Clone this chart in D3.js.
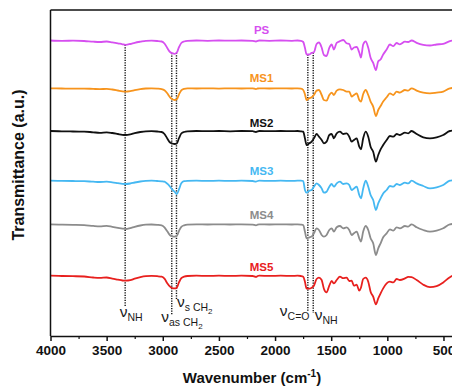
<!DOCTYPE html>
<html>
<head>
<meta charset="utf-8">
<script src="https://cdn.jsdelivr.net/npm/d3@7"></script>
<style>
  html, body { margin: 0; padding: 0; background: #fff; }
  svg { display: block; font-family: Arial, "Liberation Sans", sans-serif; }
</style>
</head>
<body>
<svg id="chart" width="452" height="387"></svg>
<script>
// ---------------- DATA ----------------
// Wavenumber grid (cm-1)
const wavenumbers = [
  4000, 3900, 3800, 3700, 3620, 3560, 3500, 3450, 3400, 3360, 3330, 3290, 3250, 3200, 3150, 3100, 3050, 3010, 2985, 2960,
  2935, 2915, 2895, 2875, 2855, 2835, 2810, 2780, 2700, 2600, 2500, 2400, 2300, 2200, 2170, 2155, 2140, 2050, 1950, 1850, 1800,
  1770, 1749, 1734, 1719, 1695, 1674, 1654, 1630, 1609, 1585, 1565, 1541, 1517, 1496, 1476, 1451, 1422, 1393, 1362, 1339,
  1318, 1297, 1273, 1250, 1235, 1215, 1193, 1170, 1149, 1126, 1102, 1081, 1060, 1037, 1006, 977, 947, 917, 888, 843,
  814, 784, 739, 680, 620, 561, 502, 443, 400
];

// Series names, vertical offsets (a.u.) and band depths below each baseline (a.u.)
const seriesNames = ["PS", "MS1", "MS2", "MS3", "MS4", "MS5"];
const seriesOffsets = [295.5, 247.7, 205, 155.3, 111.7, 60.3];

const psDepth = [
  0, 0.3, 0.2, 0.5, 1.2, 1.5, 1, 1.8, 2.8, 3.8, 4.3, 3.5, 2.3, 1.2, 0.3, 0.2, 0.5, 1, 3, 7.5,
  11.5, 12.7, 13.3, 12, 6.5, 2.5, 1, 0.3, 0, 0.3, 0, 0.2, 0, 0.3, 1, 0.3, 0, 0.3, 0, 0.3, 0,
  0.3, 1.5, 7.3, 14, 14, 12.3, 11.7, 3.5, 2, 7, 14.5, 15.5, 7.3, 4, 9, 2.3, 0.7, -0.5, 2.8, 3.5,
  9, 7, 6.5, 12, 17, 4, 0.8, 7.3, 17.3, 22.3, 29.7, 20.7, 19, 14, 9, 4, 5.7, 2.5, 3.8, 1.2,
  1.5, 0, 2.3, 4.3, 5, 4, 3.3, 0.7, -0.5
];
const ms1Depth = [
  0, 0.2, 0.4, 0.3, 0.6, 0.8, 0.6, 1.2, 2.2, 3, 3.3, 2.8, 1.8, 0.8, 0.2, 0, 0.3, 0.8, 2, 5,
  9, 11, 11.7, 11, 6, 2, 0.5, 0, 0.2, 0, 0.3, 0, 0.2, 0, 0.8, 0.2, 0, 0.2, 0, 0.2, 0,
  0.3, 1.7, 6, 11.7, 10, 9, 6.7, 2.3, 1.7, 6.7, 11.7, 12.3, 6.7, 4.3, 6.7, 2.3, 1, 1.7, 3.3, 3.3,
  8.3, 6.7, 5, 11.7, 13.3, 5.7, 1.7, 6.7, 13.3, 18.3, 27.7, 21.7, 17.7, 13.3, 9, 5, 6.7, 3.3, 4.3, 1.7,
  2.3, 0, 2.3, 4.3, 5, 4.3, 3.3, 0, -0.5
];
const ms2Depth = [
  0, 0.3, 0.5, 0.6, 1.3, 1.8, 1.3, 2, 3, 3.8, 4, 3.4, 2.2, 1, 0.3, 0.2, 0.5, 1, 3, 7.5,
  11.5, 12.5, 13, 12.5, 7, 2.5, 1, 0.3, 0, 0.2, 0, 0.3, 0, 0.2, 1, 0.3, 0, 0.2, 0, 0.2, 0,
  0.3, 0.7, 7.3, 14, 12.3, 10.7, 7.3, 3, 5.7, 9, 12.3, 10.7, 4, 3, 7.3, 2.3, 0.7, 3, 2.3, 5.7,
  10.7, 9, 7.3, 15.7, 18.3, 7.3, 0.7, 5.7, 15.7, 20.7, 30.7, 24, 18.3, 14, 9, 5, 5.7, 3, 4, 1.7,
  2.3, 0, 3, 6.3, 7.3, 6.3, 4, 0, -0.5
];
const ms3Depth = [
  0, 0.2, 0.3, 0.5, 1, 1.3, 1, 1.6, 2.5, 3.2, 3.3, 2.8, 1.8, 0.8, 0.2, 0, 0.3, 0.6, 1, 3,
  6, 9, 11, 13.3, 8.5, 2.5, 0.5, 0.2, 0, 0.2, 0, 0.2, 0, 0.3, 1, 0.3, 0, 0.2, 0, 0.2, 0,
  0, 0.3, 9.3, 12, 10, 9.3, 6, 2.7, 4.3, 7.7, 12, 11, 6, 3.3, 6, 2.7, 1, 3.3, 2.7, 4.3,
  9.3, 7.7, 6, 14.3, 17.7, 7.7, 0, 6, 14.3, 19.3, 29.3, 22.7, 17.7, 12.7, 9.3, 5.3, 6, 3.3, 4.3, 2,
  2.7, 0, 2.7, 5.3, 7.7, 6.7, 4.3, 0, -0.5
];
const ms4Depth = [
  0, 0.3, 0.5, 0.8, 1.6, 2, 1.6, 2.5, 3.5, 4.3, 4.7, 3.8, 2.5, 1.2, 0.4, 0.2, 0.5, 1, 3, 7,
  11, 12, 12.3, 11.5, 6.5, 2.5, 1, 0.3, 0, 0.2, 0, 0.2, 0, 0.3, 1, 0.3, 0, 0.2, 0, 0.2, 0,
  0.3, 0.7, 7.3, 14, 13, 12.3, 9, 4, 5.7, 10.7, 12.3, 10.7, 5.7, 4, 7.3, 3, 1.7, 4, 3, 5.7,
  10.7, 9, 7.3, 14, 17.3, 7.3, 1.7, 5.7, 14, 19, 30.7, 24, 19, 13, 9, 5, 6.3, 3, 4, 1.7,
  2.3, 0, 3, 5.7, 7.3, 6.3, 4, 0, -0.5
];
const ms5Depth = [
  0, 0.3, 0.5, 0.8, 1.8, 2.2, 1.8, 3, 4, 4.8, 5, 4.5, 3, 1.5, 0.5, 0.2, 0.5, 1, 3, 7.5,
  11, 12.5, 12.7, 12, 6.5, 2.5, 1, 0.3, 0, 0.2, 0, 0.2, 0, 0.3, 1.2, 0.3, 0, 0.2, 0, 0.2, 0,
  0.3, 1, 6, 13, 13, 12, 10, 3.3, 2, 4.3, 13, 16.7, 10, 5.3, 7.7, 4.3, 1, 2.5, 2, 5.3,
  5, 10, 9, 15, 12, 3.3, 2, 6, 16, 21, 28.7, 22.7, 17.7, 12.7, 7.7, 6, 6.7, 3.3, 4.3, 2.7,
  1.2, 1.5, 4.3, 9, 11.5, 10.5, 6.7, 1.5, -1
];
const seriesDepths = [psDepth, ms1Depth, ms2Depth, ms3Depth, ms4Depth, ms5Depth];

// Band assignments (dotted guide lines)
const bandWavenumbers = [3335, 2920, 2878, 1708, 1660];
const bandLowerEnds = [30, 21, 36, 24, 23];           // a.u.
const bandSymbols = ["ν", "ν", "ν", "ν", "ν"];
const bandSubscripts = ["NH", "as CH", "s CH", "C=O", "NH"];
const bandSubSubscripts = ["", "2", "2", "", ""];

// Axis ticks
const majorTicks = [4000, 3500, 3000, 2500, 2000, 1500, 1000, 500];
const minorTicks = [3750, 3250, 2750, 2250, 1750, 1250, 750];

// ---------------- STYLE ----------------
const colors = ["#d64ff0", "#f7941d", "#111111", "#45b8f2", "#8c8c8c", "#e8201e"];
const labelDy = [-6.5, -6.8, -4.2, -5.8, -5.4, -5.2];
const bandLabelStyle = [
  { dx: -5.5, dy: 10.5, subDy: 4.5 },
  { dx: -10.5, dy: 7, subDy: 3.5 },
  { dx: 0.5, dy: 7, subDy: 3.5 },
  { dx: -28, dy: 4, subDy: 4 },
  { dx: 1.5, dy: 7, subDy: 4 }
];

// ---------------- CHART ----------------
const svg = d3.select("#chart");
const x = d3.scaleLinear().domain([4000, 400]).range([50.5, 454.7]);
const y = d3.scaleLinear().domain([0, 326]).range([336, 10]);

const line = d3.line()
  .x(d => x(d[0]))
  .y(d => y(d[1]))
  .curve(d3.curveMonotoneX);

const seriesData = seriesNames.map((name, i) => ({
  name,
  color: colors[i],
  offset: seriesOffsets[i],
  points: wavenumbers.map((w, j) => [w, seriesOffsets[i] - seriesDepths[i][j]])
}));

// dotted guide lines (from PS curve down)
function interp(points, w) {
  for (let k = 0; k < points.length - 1; k++) {
    const a = points[k], b = points[k + 1];
    if ((w <= a[0] && w >= b[0])) {
      const t = (a[0] - w) / (a[0] - b[0]);
      return a[1] + t * (b[1] - a[1]);
    }
  }
  return points[0][1];
}
const psPts = seriesData[0].points;
const guides = svg.append("g");
bandWavenumbers.forEach((w, i) => {
  guides.append("line")
    .attr("x1", x(w)).attr("x2", x(w))
    .attr("y1", y(interp(psPts, w)))
    .attr("y2", y(bandLowerEnds[i]))
    .attr("stroke", "#111")
    .attr("stroke-width", 1.4)
    .attr("stroke-dasharray", "1.3,1.2");
});

// spectra
svg.append("g").selectAll("path")
  .data(seriesData)
  .join("path")
  .attr("d", d => line(d.points))
  .attr("fill", "none")
  .attr("stroke", d => d.color)
  .attr("stroke-width", 1.8)
  .attr("stroke-linejoin", "round");

// series labels
svg.append("g").selectAll("text")
  .data(seriesData)
  .join("text")
  .attr("x", x(2120))
  .attr("y", (d, i) => y(d.offset) + labelDy[i])
  .attr("text-anchor", "middle")
  .attr("font-size", 11.5)
  .attr("font-weight", "bold")
  .attr("fill", d => d.color)
  .text(d => d.name);

// band labels
bandWavenumbers.forEach((w, i) => {
  const st = bandLabelStyle[i];
  const t = svg.append("text")
    .attr("x", x(w) + st.dx)
    .attr("y", y(bandLowerEnds[i]) + st.dy)
    .attr("fill", "#1a1a1a")
    .attr("font-size", 15.5);
  t.append("tspan").text(bandSymbols[i]);
  t.append("tspan").attr("dy", st.subDy).attr("font-size", 10.5).text(bandSubscripts[i]);
  if (bandSubSubscripts[i]) {
    t.append("tspan").attr("dy", 3).attr("font-size", 8).text(bandSubSubscripts[i]);
  }
});

// frame: left and top
svg.append("line").attr("x1", 50.5).attr("x2", 50.5).attr("y1", 10).attr("y2", 336)
  .attr("stroke", "#111").attr("stroke-width", 1.5);
svg.append("line").attr("x1", 50.5).attr("x2", 455).attr("y1", 10).attr("y2", 10)
  .attr("stroke", "#111").attr("stroke-width", 1.5);
svg.append("line").attr("x1", x(400)).attr("x2", x(400)).attr("y1", 10).attr("y2", 336)
  .attr("stroke", "#111").attr("stroke-width", 1.5);

// bottom axis
const gx = svg.append("g").attr("transform", "translate(0,336)");
gx.call(d3.axisBottom(x).tickValues(majorTicks).tickSize(5).tickSizeOuter(0).tickPadding(4.5).tickFormat(d3.format("d")));
gx.select(".domain").attr("stroke", "#111").attr("stroke-width", 1.5);
gx.selectAll(".tick line").attr("stroke", "#111").attr("stroke-width", 1.5);
gx.selectAll(".tick text").attr("font-size", 13.5).attr("font-weight", "bold").attr("fill", "#111")
  .attr("font-family", "Arial, 'Liberation Sans', sans-serif");
const gm = svg.append("g").attr("transform", "translate(0,336)");
gm.call(d3.axisBottom(x).tickValues(minorTicks).tickSize(3).tickSizeOuter(0).tickFormat(""));
gm.select(".domain").remove();
gm.selectAll(".tick line").attr("stroke", "#111").attr("stroke-width", 1.2);

// axis titles
const xt = svg.append("text")
  .attr("x", 252).attr("y", 383)
  .attr("text-anchor", "middle")
  .attr("font-size", 15).attr("font-weight", "bold").attr("fill", "#111");
xt.append("tspan").text("Wavenumber (cm");
xt.append("tspan").attr("dy", -6).attr("font-size", 10).text("-1");
xt.append("tspan").attr("dy", 6).text(")");

svg.append("text")
  .attr("transform", "translate(24,165) rotate(-90)")
  .attr("text-anchor", "middle")
  .attr("font-size", 16).attr("font-weight", "bold").attr("fill", "#111")
  .text("Transmittance (a.u.)");
</script>
</body>
</html>
